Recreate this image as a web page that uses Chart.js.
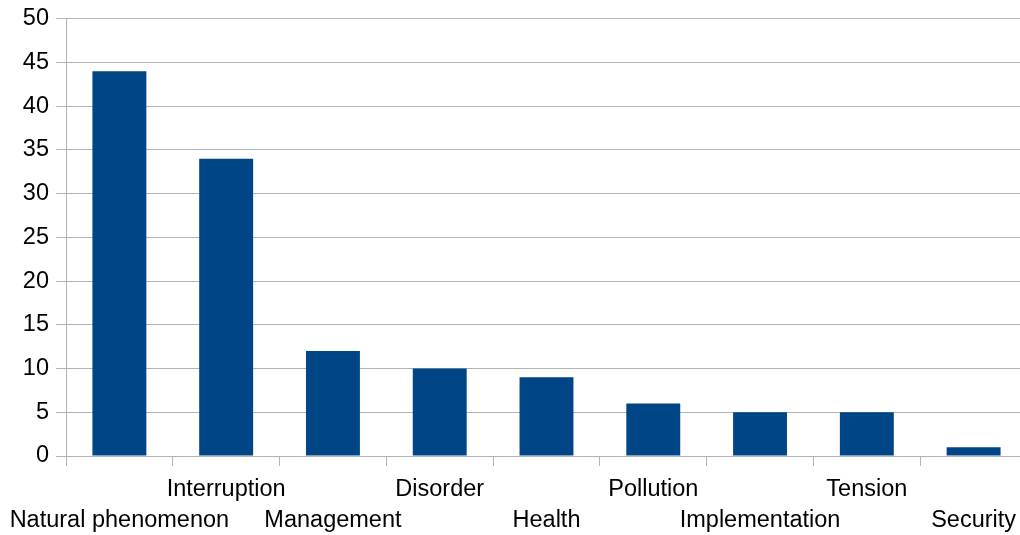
<!DOCTYPE html>
<html>
<head>
<meta charset="utf-8">
<script src="https://cdn.jsdelivr.net/npm/chart.js@4/dist/chart.umd.min.js"></script>
<style>
  html, body { margin: 0; padding: 0; background: #fff; overflow: hidden; }
  #wrap { width: 1040px; height: 535px; }
</style>
</head>
<body>
<div id="wrap"><canvas id="chart" width="1040" height="535"></canvas></div>
<script>
const categories = [
  "Natural phenomenon", "Interruption", "Management", "Disorder", "Health",
  "Pollution", "Implementation", "Tension", "Security"
];
const counts = [44, 34, 12, 10, 9, 6, 5, 5, 1];
const yTicks = { min: 0, max: 50, step: 5 };

// alternate rows: even index on the lower line, odd index on the upper line
const staggered = categories.map((name, i) => (i % 2 === 0 ? ["", name] : [name, ""]));

const gridColor = "#b3b3b3";
const font = { family: "'Liberation Sans', Arial, sans-serif", size: 23.5, lineHeight: 1.32 };

new Chart(document.getElementById("chart").getContext("2d"), {
  type: "bar",
  data: {
    labels: staggered,
    datasets: [{
      data: counts,
      backgroundColor: "#004586",
      borderWidth: 0,
      barPercentage: 0.505,
      categoryPercentage: 1
    }]
  },
  options: {
    responsive: false,
    animation: false,
    layout: { padding: { top: 17, right: 13, left: 0, bottom: 0 } },
    plugins: { legend: { display: false }, tooltip: { enabled: false } },
    scales: {
      x: {
        grid: { drawOnChartArea: false, drawTicks: true, tickLength: 10, color: gridColor, offset: true },
        border: { color: gridColor },
        ticks: { color: "#000", font: font, padding: 8, maxRotation: 0, autoSkip: false },
        afterFit: (scale) => {
          scale.height = 79;
          scale.paddingLeft = 0;
          scale.paddingRight = 0;
        }
      },
      y: {
        min: yTicks.min,
        max: yTicks.max,
        grid: { color: gridColor, tickLength: 10 },
        border: { color: gridColor },
        ticks: { stepSize: yTicks.step, color: "#000", font: { family: font.family, size: 23.5, lineHeight: 1 }, padding: 7 },
        afterFit: (scale) => { scale.width = 66; }
      }
    }
  }
});
</script>
</body>
</html>
